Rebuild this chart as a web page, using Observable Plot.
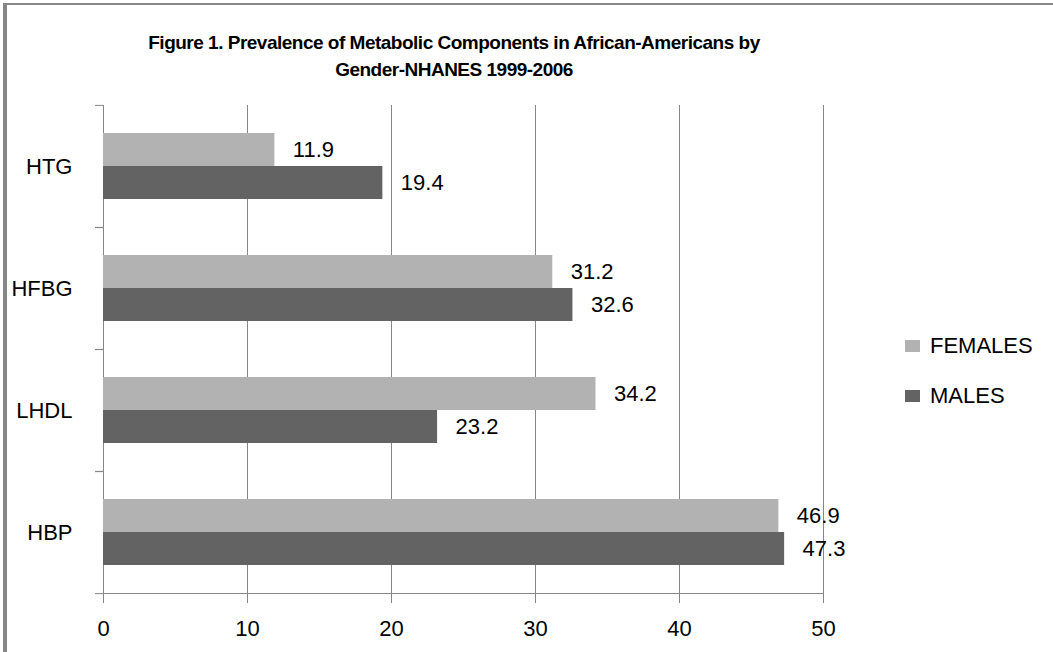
<!DOCTYPE html>
<html>
<head>
<meta charset="utf-8">
<script src="https://cdn.jsdelivr.net/npm/d3@7"></script>
<script src="https://cdn.jsdelivr.net/npm/@observablehq/plot@0.6"></script>
<style>
  body { margin: 0; background: #fff; }
  #wrap { position: relative; width: 1053px; height: 652px; overflow: hidden; background: #fff;
          font-family: "Liberation Sans", Arial, sans-serif; }
  #chart { position: absolute; left: 0; top: 0; }
  #bl { position: absolute; left: 3px; top: 3px; width: 4px; height: 660px; background: #868686; }
  #bt { position: absolute; left: 3px; top: 3px; width: 1050px; height: 2px; background: #868686; }
  #title { position: absolute; left: 0; top: 29px; width: 908px; text-align: center;
           font-weight: bold; font-size: 19px; letter-spacing: -0.5px; line-height: 27px; color: #000; }
  .lg-sw { position: absolute; width: 15px; height: 12px; }
  .lg-tx { position: absolute; font-size: 22px; line-height: 24px; color: #000; }
</style>
</head>
<body>
<div id="wrap">
  <div id="chart"></div>
  <div id="title">Figure 1. Prevalence of Metabolic Components in African-Americans by<br>Gender-NHANES 1999-2006</div>
  <div id="bl"></div>
  <div id="bt"></div>
</div>
<script>
// ---- data ----
const categories = ["HTG", "HFBG", "LHDL", "HBP"];
const series = ["FEMALES", "MALES"];
const femalesValues = [11.9, 31.2, 34.2, 46.9];
const malesValues = [19.4, 32.6, 23.2, 47.3];
const xTicks = [0, 10, 20, 30, 40, 50];
const colors = ["#b2b2b2", "#636363"];

const rows = [];
categories.forEach((c, i) => {
  rows.push({cat: c, sex: series[0], value: femalesValues[i]});
  rows.push({cat: c, sex: series[1], value: malesValues[i]});
});

const W = 1053, H = 652, mt = 104, mb = 59, ml = 103, mr = 230;
const step = (H - mt - mb) / categories.length;
const gridColor = "#868686";

const chart = Plot.plot({
  width: W, height: H,
  marginTop: mt, marginBottom: mb, marginLeft: ml, marginRight: mr,
  style: {fontFamily: "'Liberation Sans', Arial, sans-serif", fontSize: "22px", color: "#000", background: "transparent"},
  x: {domain: [0, 50], axis: null},
  y: {domain: series, paddingInner: 0, paddingOuter: 0.8, axis: null},
  fy: {domain: categories, paddingInner: 0, paddingOuter: 0, axis: null},
  color: {domain: series, range: colors},
  marks: [
    Plot.gridX(xTicks, {stroke: gridColor, strokeOpacity: 1, strokeWidth: 1}),
    Plot.barX(rows, {fy: "cat", y: "sex", x: "value", fill: "sex", insetTop: 0, insetBottom: 0}),
    Plot.text(rows, {fy: "cat", y: "sex", x: "value", text: d => d.value.toFixed(1),
      textAnchor: "start", dx: 18, fontSize: 22, fill: "#000"}),
    Plot.frame({anchor: "bottom", facetAnchor: "bottom", stroke: gridColor}),
    Plot.axisX(xTicks, {anchor: "bottom", tickSize: 10, tickPadding: 17, fontSize: 22,
      stroke: gridColor, fill: "#000", label: null}),
    Plot.axisFy({anchor: "left", tickSize: 0, tickPadding: 31, fontSize: 22, fill: "#000", label: null}),
    Plot.axisFy({anchor: "left", tickSize: 8, tickFormat: () => "", stroke: gridColor, dy: -step / 2, label: null}),
    Plot.axisFy({anchor: "left", tickSize: 8, tickFormat: () => "", stroke: gridColor, dy: step / 2, label: null})
  ]
});
document.getElementById("chart").appendChild(chart);

// legend (HTML, from the series/colour arrays)
const wrap = document.getElementById("wrap");
const legendTops = [340, 390];
series.forEach((s, i) => {
  const sw = document.createElement("div");
  sw.className = "lg-sw";
  sw.style.left = "905px";
  sw.style.top = legendTops[i] + "px";
  sw.style.background = colors[i];
  wrap.appendChild(sw);
  const tx = document.createElement("div");
  tx.className = "lg-tx";
  tx.style.left = "930px";
  tx.style.top = (legendTops[i] - 6.5) + "px";
  tx.textContent = s;
  wrap.appendChild(tx);
});
</script>
</body>
</html>
